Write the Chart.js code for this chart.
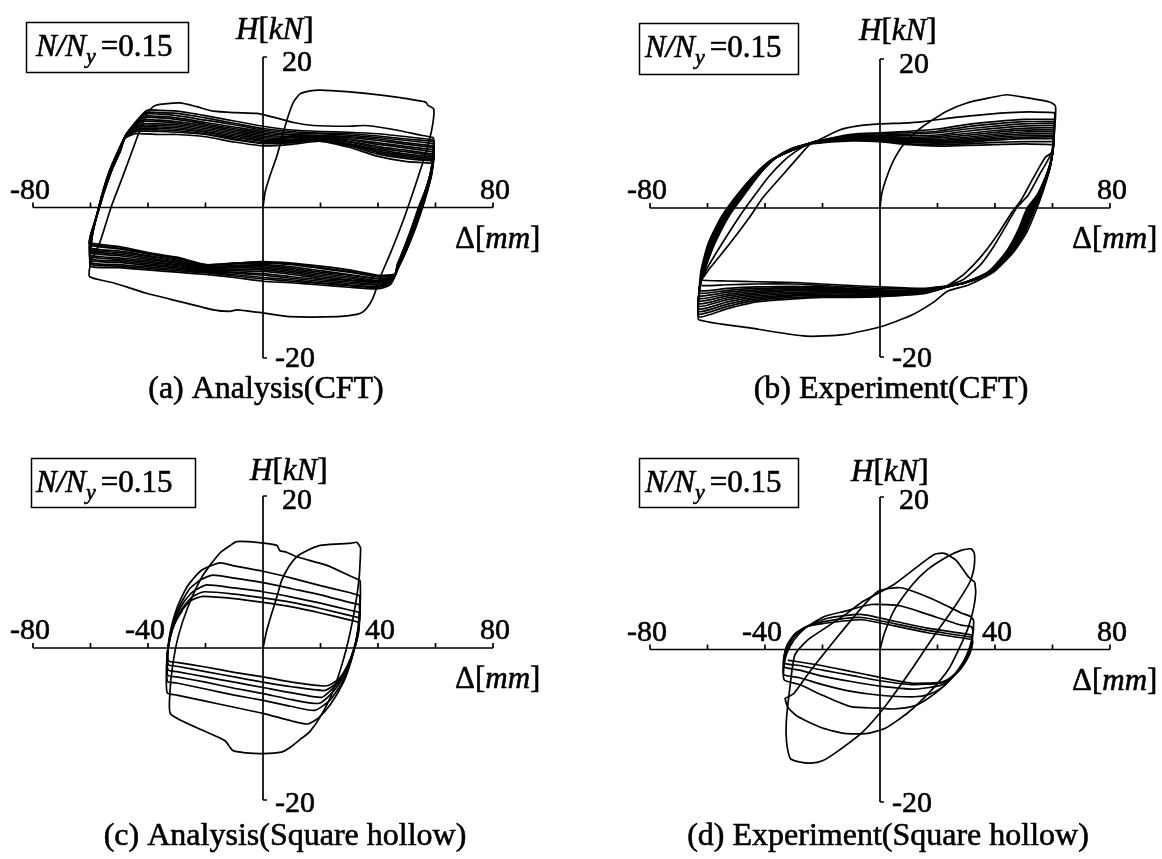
<!DOCTYPE html>
<html>
<head>
<meta charset="utf-8">
<title>Hysteresis loops: CFT and square hollow columns</title>
<script src="https://cdn.jsdelivr.net/npm/chart.js"></script>
<style>
  html, body { margin: 0; padding: 0; background: #fff; }
  #sheet { position: relative; width: 1162px; height: 859px; background: #fff; overflow: hidden; }
  #sheet canvas { position: absolute; }
</style>
</head>
<body>
<div id="sheet">
  <canvas id="panelA" width="581" height="430" style="left:0;top:0"></canvas>
  <canvas id="panelB" width="581" height="430" style="left:581px;top:0"></canvas>
  <canvas id="panelC" width="581" height="429" style="left:0;top:430px"></canvas>
  <canvas id="panelD" width="581" height="429" style="left:581px;top:430px"></canvas>
</div>
<script>
// ---------------------------------------------------------------
// Axis values and labels (displacement in mm, horizontal force in kN)
// ---------------------------------------------------------------
const xTickValues = [-80, -60, -40, -20, 20, 40, 60, 80];
const yTickValues = [20, -20];
const topRowXLabels = [-80, 80];
const bottomRowXLabels = [-80, -40, 40, 80];
const axisRange = { x: 80, y: 20 };
const axialRatioText = '=0.15';
const panelTitles = [
  '(a) Analysis(CFT)',
  '(b) Experiment(CFT)',
  '(c) Analysis(Square hollow)',
  '(d) Experiment(Square hollow)'
];

// ---------------------------------------------------------------
// (a) Analysis, CFT column  [displacement mm, force kN]
// ---------------------------------------------------------------
const aFirstCycle = [
  [0,0],[0.7,2.0],[2.4,4.2],[4.8,6.8],[7.1,10.0],[8.8,12.2],[10.6,14.0],[12.9,15.1],[16.4,15.5],[19.9,15.6],
  [29.2,15.4],[37.3,15.1],[47.7,14.6],[54.0,14.2],[56.7,14.0],[57.3,13.6],[59.4,13.1],
  [59.1,11.2],[57.9,9.0],[55.6,6.0],[52.6,2.5],[48.7,-1.8],[44.4,-6.0],[40.6,-9.4],[38.8,-11.5],[37.2,-12.8],
  [35.0,-13.8],[32.6,-14.2],[26.1,-14.5],[9.1,-14.5],[0,-14.0],[-4.5,-13.8],[-9.2,-13.6],[-11.5,-13.8],
  [-17.3,-13.6],[-28.9,-12.5],[-40.5,-11.4],[-52.1,-10.0],[-60.3,-9.2],
  [-59.8,-7.2],[-56.8,-4.7],[-52.7,0.2],[-48.7,4.2],[-43.4,9.7],[-40.6,12.3],[-38.2,13.4],[-35.9,13.7],
  [-28.9,13.9],[-23.1,13.4],[-17.3,12.8],[-9.2,12.6],[-2.2,12.5],[3.6,12.0],[10.6,11.3],[17.5,10.9],
  [29.2,10.8],[35.0,10.9],[38.4,10.8],[47.7,10.2],[55.0,9.6],[59.3,9.3]
];
const aTopLines = [
  [[-40.5,12.9],[-36,12.9],[-30,12.8],[-20,12.2],[-10,11.5],[0,10.8],[10,10.3],[20,10.1],[30,10.0],[40,9.8],[50,9.4],[59.4,9.0]],
  [[-40.9,12.6],[-36,12.6],[-30,12.5],[-20,11.9],[-10,11.2],[0,10.5],[10,10.1],[20,9.9],[30,9.8],[40,9.5],[50,9.1],[59.4,8.8]],
  [[-41.2,12.4],[-36,12.4],[-30,12.2],[-20,11.6],[-10,11.0],[0,10.3],[10,9.9],[20,9.8],[30,9.6],[40,9.3],[50,8.9],[59.3,8.5]],
  [[-41.5,12.1],[-36,12.1],[-30,11.9],[-20,11.3],[-10,10.7],[0,10.1],[10,9.7],[20,9.6],[30,9.4],[40,9.1],[50,8.6],[59.3,8.2]],
  [[-41.8,11.9],[-36,11.9],[-30,11.7],[-20,11.1],[-10,10.5],[0,9.9],[10,9.6],[20,9.5],[30,9.3],[40,8.9],[50,8.4],[59.2,8.0]],
  [[-42.1,11.6],[-36,11.6],[-30,11.4],[-20,10.9],[-10,10.3],[0,9.7],[10,9.4],[20,9.4],[30,9.1],[40,8.6],[50,8.1],[59.2,7.7]],
  [[-42.3,11.4],[-36,11.4],[-30,11.2],[-20,10.7],[-10,10.1],[0,9.5],[10,9.3],[20,9.3],[30,9.0],[40,8.4],[50,7.9],[59.1,7.4]],
  [[-42.6,11.1],[-36,11.1],[-30,11.0],[-20,10.5],[-10,9.9],[0,9.3],[10,9.1],[20,9.2],[30,8.8],[40,8.1],[50,7.6],[59.1,7.1]],
  [[-42.8,10.9],[-36,10.9],[-30,10.8],[-20,10.3],[-10,9.7],[0,9.1],[10,9.0],[20,9.1],[30,8.7],[40,7.9],[50,7.4],[59.0,6.9]],
  [[-43.1,10.7],[-36,10.7],[-30,10.6],[-20,10.1],[-10,9.5],[0,8.9],[10,8.9],[20,9.0],[30,8.5],[40,7.7],[50,7.1],[59.0,6.7]],
  [[-43.3,10.5],[-36,10.5],[-30,10.4],[-20,10.0],[-10,9.3],[0,8.8],[10,8.8],[20,9.0],[30,8.4],[40,7.5],[50,6.9],[58.9,6.5]],
  [[-43.6,10.3],[-36,10.3],[-30,10.2],[-20,9.8],[-10,9.1],[0,8.6],[10,8.7],[20,8.9],[30,8.3],[40,7.3],[50,6.7],[58.9,6.3]],
  [[-43.8,10.1],[-36,10.1],[-30,10.0],[-20,9.7],[-10,9.0],[0,8.5],[10,8.6],[20,8.9],[30,8.2],[40,7.1],[50,6.5],[58.8,6.2]],
  [[-44.2,9.8],[-36,9.7],[-30,9.7],[-20,9.4],[-10,8.7],[0,8.2],[10,8.4],[20,8.8],[30,8.0],[40,6.8],[50,6.1],[58.7,5.9]]
];
const aDescents = [
  [[59.5,7.2],[58.7,4.4],[57.3,2.3],[55.5,0],[52.8,-3.0],[49.6,-6.0],[46.6,-8.4]],
  [[59.5,7.0],[58.6,4.4],[57.2,2.3],[55.4,0],[52.7,-3.0],[49.5,-6.0],[46.6,-8.4]],
  [[59.4,6.9],[58.5,4.3],[57.1,2.2],[55.3,0],[52.6,-3.0],[49.4,-6.0],[46.6,-8.3]],
  [[59.4,6.8],[58.5,4.3],[57.0,2.2],[55.2,0],[52.5,-3.0],[49.4,-6.0],[46.6,-8.3]],
  [[59.3,6.6],[58.4,4.2],[57.0,2.2],[55.1,0],[52.4,-3.0],[49.3,-6.0],[46.6,-8.2]],
  [[59.3,6.5],[58.3,4.2],[56.9,2.1],[55.0,0],[52.3,-3.0],[49.2,-6.0],[46.6,-8.2]],
  [[59.2,6.4],[58.3,4.1],[56.8,2.1],[54.9,0],[52.2,-3.0],[49.1,-6.0],[46.6,-8.1]],
  [[59.2,6.3],[58.2,4.1],[56.7,2.1],[54.8,0],[52.1,-3.0],[49.0,-6.0],[46.6,-8.1]],
  [[59.1,6.2],[58.1,4.1],[56.6,2.1],[54.7,0],[52.0,-3.0],[48.9,-6.0],[46.6,-8.0]],
  [[59.0,6.1],[58.0,4.0],[56.5,2.0],[54.6,0],[51.9,-3.0],[48.8,-6.0],[46.6,-8.0]],
  [[59.0,6.0],[58.0,4.0],[56.5,2.0],[54.5,0],[51.8,-3.0],[48.8,-6.0],[46.6,-7.9]],
  [[58.9,5.9],[57.9,4.0],[56.3,2.0],[54.3,0],[51.6,-3.0],[48.6,-6.0],[46.6,-7.8]],
  [[58.9,5.9],[57.8,3.9],[56.2,2.0],[54.2,0],[51.5,-3.0],[48.5,-6.0],[46.6,-7.8]],
  [[58.8,5.8],[57.8,3.9],[56.2,2.0],[54.1,0],[51.4,-3.0],[48.4,-6.0],[46.6,-7.7]]
];
const aBottomLines = [
  [[44.2,-10.3],[40,-10.8],[30,-10.6],[20,-10.3],[10,-10.0],[0,-9.8],[-10,-9.3],[-20,-8.9],[-30,-8.6],[-40,-8.3],[-50,-8.0],[-60.0,-7.8]],
  [[44.4,-10.1],[40,-10.6],[30,-10.4],[20,-10.1],[10,-9.8],[0,-9.5],[-10,-9.1],[-20,-8.7],[-30,-8.4],[-40,-8.1],[-50,-7.8],[-60.0,-7.5]],
  [[44.5,-10.0],[40,-10.5],[30,-10.3],[20,-10.0],[10,-9.6],[0,-9.3],[-10,-8.9],[-20,-8.6],[-30,-8.2],[-40,-7.9],[-50,-7.6],[-60.0,-7.3]],
  [[44.7,-9.9],[40,-10.3],[30,-10.1],[20,-9.8],[10,-9.4],[0,-9.0],[-10,-8.7],[-20,-8.5],[-30,-8.0],[-40,-7.7],[-50,-7.3],[-60.1,-7.0]],
  [[44.8,-9.8],[40,-10.2],[30,-9.9],[20,-9.6],[10,-9.2],[0,-8.8],[-10,-8.6],[-20,-8.4],[-30,-7.9],[-40,-7.5],[-50,-7.1],[-60.1,-6.8]],
  [[45.0,-9.7],[40,-10.0],[30,-9.7],[20,-9.4],[10,-8.9],[0,-8.5],[-10,-8.4],[-20,-8.3],[-30,-7.7],[-40,-7.3],[-50,-6.9],[-60.1,-6.5]],
  [[45.1,-9.6],[40,-9.9],[30,-9.6],[20,-9.2],[10,-8.7],[0,-8.3],[-10,-8.2],[-20,-8.2],[-30,-7.6],[-40,-7.1],[-50,-6.7],[-60.1,-6.3]],
  [[45.3,-9.5],[40,-9.8],[30,-9.4],[20,-9.0],[10,-8.5],[0,-8.1],[-10,-8.0],[-20,-8.1],[-30,-7.4],[-40,-6.9],[-50,-6.4],[-60.2,-6.0]],
  [[45.4,-9.4],[40,-9.7],[30,-9.2],[20,-8.8],[10,-8.3],[0,-7.9],[-10,-7.9],[-20,-8.0],[-30,-7.3],[-40,-6.7],[-50,-6.2],[-60.2,-5.8]],
  [[45.6,-9.3],[40,-9.5],[30,-9.0],[20,-8.6],[10,-8.1],[0,-7.7],[-10,-7.8],[-20,-7.9],[-30,-7.1],[-40,-6.5],[-50,-6.0],[-60.2,-5.6]],
  [[45.7,-9.2],[40,-9.4],[30,-8.9],[20,-8.4],[10,-7.9],[0,-7.6],[-10,-7.7],[-20,-7.8],[-30,-7.0],[-40,-6.4],[-50,-5.8],[-60.2,-5.4]],
  [[46.0,-9.0],[40,-9.2],[30,-8.6],[20,-8.1],[10,-7.6],[0,-7.4],[-10,-7.5],[-20,-7.7],[-30,-6.8],[-40,-6.2],[-50,-5.5],[-60.3,-5.0]],
  [[46.1,-8.9],[40,-9.1],[30,-8.5],[20,-8.0],[10,-7.5],[0,-7.3],[-10,-7.4],[-20,-7.6],[-30,-6.7],[-40,-6.1],[-50,-5.4],[-60.3,-4.9]],
  [[46.3,-8.8],[40,-9.0],[30,-8.3],[20,-7.8],[10,-7.4],[0,-7.2],[-10,-7.4],[-20,-7.6],[-30,-6.6],[-40,-6.0],[-50,-5.2],[-60.3,-4.7]]
];
const aAscents = [
  [[-59.9,-5.6],[-59.3,-3.6],[-57.9,-1.2],[-56.2,1.5],[-53.5,4.8],[-50.3,7.6],[-47.3,9.9]],
  [[-59.9,-5.5],[-59.3,-3.5],[-57.9,-1.1],[-56.1,1.5],[-53.4,4.8],[-50.3,7.6],[-47.3,9.9]],
  [[-59.9,-5.3],[-59.3,-3.4],[-57.8,-1.0],[-56.0,1.6],[-53.3,4.9],[-50.2,7.6],[-47.4,9.8]],
  [[-60.0,-5.2],[-59.3,-3.3],[-57.8,-1.0],[-56.0,1.6],[-53.2,4.9],[-50.2,7.6],[-47.4,9.8]],
  [[-60.0,-5.0],[-59.2,-3.2],[-57.7,-0.9],[-55.9,1.7],[-53.1,5.0],[-50.1,7.6],[-47.5,9.7]],
  [[-60.0,-4.9],[-59.2,-3.1],[-57.7,-0.9],[-55.8,1.7],[-53.1,5.0],[-50.1,7.6],[-47.5,9.7]],
  [[-60.0,-4.8],[-59.2,-3.0],[-57.6,-0.8],[-55.7,1.8],[-53.0,5.0],[-50.0,7.5],[-47.6,9.6]],
  [[-60.1,-4.7],[-59.2,-3.0],[-57.6,-0.8],[-55.7,1.8],[-52.9,5.0],[-50.0,7.5],[-47.6,9.6]],
  [[-60.1,-4.6],[-59.1,-2.9],[-57.5,-0.7],[-55.6,1.8],[-52.8,5.0],[-49.9,7.5],[-47.7,9.5]],
  [[-60.1,-4.5],[-59.1,-2.8],[-57.5,-0.7],[-55.6,1.9],[-52.8,5.0],[-49.9,7.5],[-47.7,9.5]],
  [[-60.1,-4.4],[-59.1,-2.7],[-57.4,-0.6],[-55.5,1.9],[-52.7,5.0],[-49.8,7.5],[-47.8,9.4]],
  [[-60.2,-4.2],[-59.0,-2.6],[-57.3,-0.5],[-55.4,1.9],[-52.6,5.0],[-49.7,7.5],[-47.9,9.3]],
  [[-60.2,-4.1],[-59.0,-2.5],[-57.3,-0.5],[-55.4,2.0],[-52.6,5.0],[-49.7,7.5],[-47.9,9.3]],
  [[-60.2,-4.0],[-59.0,-2.4],[-57.2,-0.4],[-55.3,2.0],[-52.5,5.0],[-49.6,7.5],[-48.0,9.2]]
];

// ---------------------------------------------------------------
// (b) Experiment, CFT column
// ---------------------------------------------------------------
const bFirstCycle = [
  [0,0],[0.6,1.9],[2.3,4.1],[4.6,6.3],[8.1,8.5],[12.8,10.3],[17.4,11.6],[23.2,13.0],[30.2,14.1],[38.3,14.8],
  [44.1,15.2],[51.1,14.8],[59.2,14.2],[61.0,13.7],
  [61.0,12.0],[60.6,10.5],[60.2,8.3],[59.2,5.6],[56.9,2.5],[54.6,0],[51.1,-3.2],[46.5,-5.9],[39.5,-8.6],
  [31.0,-10.3],[23.3,-11.2],[18.8,-12.6],[10.9,-14.4],[0.5,-15.9],[-12.6,-17.0],[-25.7,-17.2],[-45.3,-16.1],[-63.0,-15.0],
  [-63.2,-13.5],[-63.0,-11.5],[-62.3,-8.5],[-59.8,-4.8],[-55.2,-1.2],[-49.4,1.9],[-43.6,4.5],[-37.7,6.5],
  [-31.8,7.6],[-26.0,8.4],[-23.0,8.8],
  [-13.9,10.5],[-8.1,11.0],[0,11.3],[8.0,11.4],[15.0,11.6],[27.0,12.2],[38.0,12.6],[45.0,12.8],[52.0,12.9],[60.8,12.8]
];
const bTopLines = [
  [[-22.5,8.9],[-10,9.9],[0,10.1],[10,10.3],[20,10.6],[30,11.2],[40,11.6],[50,11.9],[60.8,11.9]],
  [[-22.6,8.9],[-10,9.8],[0,10.0],[10,10.1],[20,10.3],[30,10.9],[40,11.3],[50,11.6],[60.7,11.6]],
  [[-22.7,8.9],[-10,9.7],[0,9.8],[10,9.9],[20,10.1],[30,10.6],[40,11.0],[50,11.3],[60.7,11.4]],
  [[-22.8,8.9],[-10,9.6],[0,9.7],[10,9.7],[20,9.8],[30,10.3],[40,10.7],[50,11.0],[60.6,11.1]],
  [[-22.9,8.8],[-10,9.5],[0,9.6],[10,9.5],[20,9.6],[30,10.0],[40,10.4],[50,10.7],[60.6,10.8]],
  [[-23.0,8.8],[-10,9.45],[0,9.5],[10,9.35],[20,9.4],[30,9.75],[40,10.15],[50,10.45],[60.5,10.55]],
  [[-23.1,8.8],[-10,9.4],[0,9.4],[10,9.2],[20,9.2],[30,9.5],[40,9.9],[50,10.2],[60.5,10.3]],
  [[-23.2,8.8],[-10,9.35],[0,9.3],[10,9.1],[20,9.05],[30,9.3],[40,9.7],[50,9.95],[60.4,10.05]],
  [[-23.3,8.8],[-10,9.3],[0,9.2],[10,9.0],[20,8.9],[30,9.1],[40,9.5],[50,9.7],[60.4,9.8]],
  [[-23.4,8.7],[-10,9.25],[0,9.15],[10,8.9],[20,8.8],[30,8.95],[40,9.3],[50,9.5],[60.3,9.55]],
  [[-23.5,8.7],[-10,9.2],[0,9.1],[10,8.8],[20,8.7],[30,8.8],[40,9.1],[50,9.3],[60.3,9.3]],
  [[-23.7,8.7],[-10,9.1],[0,9.0],[10,8.6],[20,8.5],[30,8.6],[40,8.8],[50,8.9],[60.2,8.9]],
  [[-23.9,8.6],[-10,9.0],[0,8.9],[10,8.5],[20,8.3],[30,8.4],[40,8.5],[50,8.6],[60.1,8.5]]
];
const bDescents = [
  [[60.6,10.0],[60.1,7.6],[59.0,5.2],[56.6,2.3],[54.0,0],[50.5,-3.2],[46.0,-5.9],[39.2,-8.6],[30,-10.0],[23,-10.6]],
  [[60.6,9.8],[60.1,7.5],[58.9,5.1],[56.4,2.3],[53.8,0],[50.3,-3.2],[45.8,-5.9],[39.1,-8.6],[30,-10.0],[23,-10.6]],
  [[60.5,9.4],[60.0,7.3],[58.8,5.0],[56.2,2.2],[53.5,0],[50.0,-3.2],[45.6,-5.9],[39.0,-8.6],[30,-10.0],[23,-10.6]],
  [[60.5,9.2],[60.0,7.2],[58.7,5.0],[56.0,2.1],[53.2,0],[49.8,-3.2],[45.4,-5.9],[38.8,-8.6],[30,-10.0],[23,-10.6]],
  [[60.4,9.0],[59.9,7.1],[58.6,4.9],[55.9,2.1],[53.0,0],[49.5,-3.2],[45.2,-5.9],[38.7,-8.6],[30,-10.0],[23,-10.6]],
  [[60.4,8.8],[59.9,7.0],[58.5,4.9],[55.7,2.0],[52.7,0],[49.3,-3.1],[45.0,-5.9],[38.5,-8.6],[30,-10.0],[23,-10.6]],
  [[60.3,8.6],[59.8,7.0],[58.4,4.8],[55.5,2.0],[52.4,0],[49.0,-3.1],[44.8,-5.9],[38.4,-8.6],[30,-10.0],[23,-10.6]],
  [[60.3,8.4],[59.8,6.9],[58.3,4.8],[55.3,2.0],[52.1,0],[48.8,-3.1],[44.6,-5.9],[38.2,-8.6],[30,-10.0],[23,-10.6]],
  [[60.2,8.2],[59.7,6.8],[58.2,4.7],[55.1,1.9],[51.8,0],[48.5,-3.1],[44.4,-5.9],[38.1,-8.6],[30,-10.0],[23,-10.6]],
  [[60.2,8.0],[59.7,6.7],[58.1,4.6],[54.9,1.8],[51.5,0],[48.3,-3.0],[44.2,-5.8],[38.0,-8.5],[30,-9.9],[23,-10.6]],
  [[60.1,7.9],[59.6,6.6],[58.0,4.6],[54.7,1.8],[51.2,0],[48.0,-3.0],[44.0,-5.8],[37.8,-8.5],[30,-9.9],[23,-10.6]],
  [[59.9,7.7],[58.5,6.5],[55.5,4.5],[51.5,1.7],[47.5,0],[43.5,-2.6],[39.5,-5.2],[35.0,-7.6],[29,-9.6],[23,-10.5]],
  [[59.8,7.5],[57.5,6.8],[53.0,3.8],[49.0,1.0],[46.0,-0.5],[40.5,-3.8],[35.0,-6.6],[30,-8.6],[26,-9.8],[23,-10.5]]
];
const bBottomLines = [
  [[22.5,-10.7],[15,-11.5],[0,-11.9],[-10,-12.0],[-20,-12.0],[-30,-12.2],[-43,-12.6],[-53,-13.5],[-63.0,-14.6]],
  [[22.5,-10.7],[15,-11.45],[0,-11.8],[-10,-11.85],[-20,-11.85],[-30,-12.0],[-43,-12.4],[-53,-13.2],[-63.0,-14.25]],
  [[22.5,-10.7],[15,-11.4],[0,-11.7],[-10,-11.7],[-20,-11.7],[-30,-11.8],[-43,-12.2],[-53,-12.9],[-63.0,-13.9]],
  [[22.5,-10.7],[15,-11.35],[0,-11.6],[-10,-11.55],[-20,-11.55],[-30,-11.65],[-43,-12.0],[-53,-12.6],[-63.0,-13.55]],
  [[22.5,-10.7],[15,-11.3],[0,-11.5],[-10,-11.4],[-20,-11.4],[-30,-11.5],[-43,-11.8],[-53,-12.3],[-63.0,-13.2]],
  [[22.5,-10.6],[15,-11.25],[0,-11.4],[-10,-11.3],[-20,-11.25],[-30,-11.3],[-43,-11.6],[-53,-12.05],[-62.9,-12.85]],
  [[22.5,-10.6],[15,-11.2],[0,-11.3],[-10,-11.2],[-20,-11.1],[-30,-11.1],[-43,-11.4],[-53,-11.8],[-62.9,-12.5]],
  [[22.5,-10.6],[15,-11.15],[0,-11.25],[-10,-11.1],[-20,-10.95],[-30,-10.95],[-43,-11.2],[-53,-11.55],[-62.8,-12.15]],
  [[22.5,-10.6],[15,-11.1],[0,-11.2],[-10,-11.0],[-20,-10.8],[-30,-10.8],[-43,-11.0],[-53,-11.3],[-62.8,-11.8]],
  [[22.5,-10.6],[15,-11.05],[0,-11.1],[-10,-10.9],[-20,-10.7],[-30,-10.65],[-43,-10.8],[-53,-11.05],[-62.7,-11.45]],
  [[22.5,-10.6],[15,-11.0],[0,-11.0],[-10,-10.8],[-20,-10.6],[-30,-10.5],[-43,-10.6],[-53,-10.8],[-62.7,-11.1]],
  [[22.5,-10.5],[15,-10.9],[0,-10.8],[-10,-10.6],[-20,-10.4],[-30,-10.2],[-43,-10.2],[-53,-10.3],[-62.6,-10.4]],
  [[22.5,-10.5],[15,-10.8],[0,-10.6],[-10,-10.4],[-20,-10.2],[-30,-10.0],[-43,-9.9],[-53,-9.8],[-62.5,-9.7]]
];
const bAscents = [
  [[-62.9,-11.5],[-62.0,-8.5],[-59.6,-4.8],[-55.0,-1.2],[-49.2,1.9],[-43.4,4.5],[-37.5,6.5],[-31.6,7.6],[-26,8.4]],
  [[-62.9,-11.3],[-61.9,-8.5],[-59.4,-4.8],[-54.8,-1.2],[-49.0,1.9],[-43.2,4.5],[-37.3,6.5],[-31.4,7.6],[-26,8.4]],
  [[-62.8,-11.2],[-61.8,-8.4],[-59.2,-4.8],[-54.5,-1.2],[-48.7,1.9],[-42.9,4.6],[-37.0,6.6],[-31.2,7.7],[-26,8.4]],
  [[-62.8,-11.0],[-61.7,-8.4],[-59.0,-4.8],[-54.3,-1.1],[-48.5,2.0],[-42.7,4.6],[-36.8,6.6],[-31.0,7.7],[-26,8.4]],
  [[-62.7,-10.9],[-61.6,-8.3],[-58.8,-4.8],[-54.0,-1.1],[-48.2,2.0],[-42.4,4.7],[-36.6,6.7],[-30.9,7.8],[-26,8.4]],
  [[-62.7,-10.7],[-61.4,-8.3],[-58.6,-4.8],[-53.8,-1.1],[-48.0,2.0],[-42.2,4.7],[-36.4,6.7],[-30.7,7.8],[-26,8.5]],
  [[-62.6,-10.6],[-61.3,-8.2],[-58.4,-4.8],[-53.5,-1.1],[-47.7,2.0],[-41.9,4.8],[-36.2,6.8],[-30.6,7.9],[-26,8.5]],
  [[-62.6,-10.4],[-61.1,-8.2],[-58.2,-4.8],[-53.2,-1.0],[-47.4,2.0],[-41.6,4.8],[-36.0,6.8],[-30.4,7.9],[-26,8.5]],
  [[-62.5,-10.3],[-61.0,-8.1],[-58.0,-4.8],[-53.0,-1.0],[-47.2,2.1],[-41.4,4.9],[-35.8,6.9],[-30.3,8.0],[-26,8.5]],
  [[-62.5,-10.1],[-60.8,-8.0],[-57.7,-4.8],[-52.7,-1.0],[-46.9,2.1],[-41.1,4.9],[-35.6,6.9],[-30.1,8.0],[-26,8.5]],
  [[-62.4,-10.0],[-60.7,-8.0],[-57.5,-4.8],[-52.4,-1.0],[-46.6,2.1],[-40.9,5.0],[-35.4,7.0],[-30.0,8.1],[-26,8.5]],
  [[-62.2,-9.8],[-60.0,-8.0],[-55.0,-4.8],[-49.0,-1.2],[-44.0,1.5],[-38.5,4.3],[-33.0,6.5],[-28.5,7.8],[-25,8.6]],
  [[-62.0,-9.6],[-59.0,-8.0],[-52.3,-4.8],[-45.3,-1.2],[-40.7,1.4],[-33.7,4.5],[-28.5,6.8],[-25,8.3]]
];

// ---------------------------------------------------------------
// (c) Analysis, square hollow column
// ---------------------------------------------------------------
const cFirstCycle = [
  [0,0],[1.3,2.3],[3.0,4.5],[4.8,6.7],[6.5,8.9],[8.8,10.6],[11.7,12.0],[15.2,12.8],[19.9,13.5],[26.8,13.7],
  [30.9,13.8],[32.6,13.9],[33.9,13.2],[33.9,12.4],
  [33.5,9.5],[32.3,6.0],[30.3,2.0],[27.6,-2.0],[24.0,-6.0],[20.0,-9.0],[16.3,-11.0],[13.0,-12.0],[9.0,-13.2],
  [6.4,-13.7],[0,-13.9],[-6.0,-13.8],[-10.5,-13.5],[-13.2,-12.2],[-20.0,-11.0],[-32.1,-8.7],
  [-32.4,-6.0],[-31.5,-2.5],[-29.5,1.5],[-26.0,5.5],[-21.0,9.5],[-15.0,12.5],[-11.0,13.6],[-9.2,14.0],
  [-2.2,13.9],[4.8,13.5],[5.9,12.8],[8.2,12.6],[11.7,12.0],[22.0,10.9],[31.3,9.3],[33.8,8.9]
];
const cTopLines = [
  [[-15.0,11.2],[-10,10.8],[0,10.1],[10,9.2],[20,8.2],[30,7.3],[33.6,6.9]],
  [[-17.5,9.6],[-10,9.2],[0,8.6],[10,7.8],[20,7.0],[30,6.0],[33.5,5.7]],
  [[-19.5,8.3],[-10,7.9],[0,7.4],[10,6.7],[20,5.9],[30,5.0],[33.4,4.7]],
  [[-20.3,7.4],[-10,7.1],[0,6.6],[10,6.0],[20,5.2],[30,4.3],[33.3,4.0]],
  [[-20.8,6.8],[-10,6.5],[0,6.0],[10,5.4],[20,4.6],[30,3.7],[33.2,3.4]]
];
const cDescents = [
  [[33.9,7.0],[33.6,4.5],[32.6,1.5],[30.8,-1.5],[28.0,-4.5],[23.5,-7.4],[19.0,-9.3]],
  [[33.8,5.2],[33.3,3.0],[32.2,0.5],[30.3,-2.0],[27.4,-4.6],[23.2,-6.9]],
  [[33.7,4.3],[33.1,2.4],[31.9,0.2],[30.0,-2.0],[27.0,-4.4],[23.0,-6.3]],
  [[33.6,3.6],[32.9,1.8],[31.7,0],[29.8,-2.0],[26.8,-4.2],[23.2,-5.7]],
  [[33.5,3.0],[32.8,1.4],[31.6,-0.2],[29.7,-2.1],[26.8,-4.1],[23.5,-5.2]],
  [[33.4,2.5],[32.7,1.0],[31.5,-0.5],[29.6,-2.2],[26.8,-3.9],[24.0,-4.7]]
];
const cBottomLines = [
  [[15.5,-10.0],[10,-9.6],[0,-8.6],[-10,-7.8],[-20,-7.0],[-30,-6.2],[-33.3,-5.9]],
  [[18.0,-8.2],[10,-7.7],[0,-6.9],[-10,-6.2],[-20,-5.4],[-30,-4.6],[-33.2,-4.4]],
  [[19.3,-7.3],[10,-6.8],[0,-6.0],[-10,-5.3],[-20,-4.5],[-30,-3.8],[-33.1,-3.6]],
  [[20.4,-6.5],[10,-5.9],[0,-5.2],[-10,-4.5],[-20,-3.8],[-30,-3.1],[-33.0,-2.9]],
  [[21.0,-5.6],[10,-5.1],[0,-4.5],[-10,-3.8],[-20,-3.1],[-30,-2.4],[-32.9,-2.2]],
  [[21.5,-5.0],[10,-4.5],[0,-3.8],[-10,-3.2],[-20,-2.5],[-30,-1.9],[-32.8,-1.7]]
];
const cAscents = [
  [[-33.6,-3.5],[-33.3,-0.8],[-32.2,2.2],[-30.0,5.2],[-26.5,8.0],[-21.5,10.2]],
  [[-33.5,-2.5],[-33.1,-0.3],[-31.8,2.5],[-29.3,5.3],[-25.5,7.8],[-21.5,9.0]],
  [[-33.4,-1.8],[-32.9,0.2],[-31.5,2.8],[-28.8,5.3],[-25.0,7.2],[-22.2,7.9]],
  [[-33.3,-1.2],[-32.7,0.6],[-31.2,2.9],[-28.5,5.0],[-25.0,6.6],[-22.8,7.1]],
  [[-33.2,-0.6],[-32.5,1.0],[-31.0,3.0],[-28.3,4.9],[-25.2,6.2],[-23.0,6.6]],
  [[-33.1,-0.3],[-32.3,1.4],[-30.6,3.3],[-28.0,5.0]]
];

// ---------------------------------------------------------------
// (d) Experiment, square hollow column
// ---------------------------------------------------------------
const dFirstCycle = [
  [0,0],[1.5,2.1],[5.0,5.2],[10.8,8.3],[16.6,10.5],[23.5,12.2],[28.2,13.0],[31.7,13.2],[32.8,12.6],
  [32.8,11.0],[32.0,9.6],[30.8,8.5],[25.6,5.4],[19.0,1.9],[11.2,-2.5],[2.1,-7.3],[-6.0,-10.8],[-14.9,-13.4],
  [-20.0,-14.6],[-24.0,-14.9],[-28.5,-14.7],[-31.2,-14.3],[-32.5,-12.1],
  [-32.6,-9.5],[-31.5,-5.5],[-29.6,-0.7],[-25.0,1.3],[-19.1,2.8],[-12.0,4.6],[-6.0,6.3],[4.7,8.5],
  [13.8,11.1],[19.0,12.5],[22.4,12.6],[26.5,11.7],[30.8,9.5],[33.0,8.8]
];
const dSecondCycle = [
  [33.3,7.5],[32.6,5.5],[30.8,3.0],[28.0,0.5],[24.0,-2.5],[18.0,-5.3],[10.0,-8.2],[2.0,-10.3],[-4.3,-11.0],
  [-12.4,-11.0],[-20.0,-10.3],[-28.6,-8.8],[-32.0,-7.6],[-33.0,-6.4],
  [-31.8,-6.2],[-29.8,-5.7],[-24.0,-2.7],[-14.7,1.7],[-6.6,5.4],[-0.8,7.6],[3.0,8.0],[7.3,8.1],[13.1,7.4],
  [21.2,6.1],[28.2,4.8],[31.7,4.3],[32.6,3.8]
];
const dLaterCycles = [
  [[32.4,2.2],[31.2,0.3],[29.0,-1.6],[25.5,-3.5],[21.0,-5.2],[16.0,-6.6],[12.0,-7.4],[5.0,-7.8],[-0.8,-7.7],
   [-10.1,-7.5],[-20.0,-6.0],[-28.0,-4.6],[-33.3,-4.0],
   [-33.5,-2.6],[-32.5,-0.6],[-30.0,1.2],[-26.0,2.8],[-19.5,4.3],[-12.4,5.0],[-3.1,5.9],[7.3,5.7],[16.6,4.6],
   [28.2,3.2],[31.7,3.0],[32.3,2.6]],
  [[32.0,1.2],[30.8,-0.4],[28.5,-2.0],[25.0,-3.7],[21.5,-5.0],[17.0,-5.9],[12.0,-6.2],[0,-6.0],[-10.0,-5.5],
   [-20.0,-4.6],[-28.0,-3.7],[-33.5,-3.3],
   [-33.6,-2.0],[-32.6,-0.2],[-30.0,1.6],[-25.5,3.0],[-18.2,4.1],[-6.6,4.6],[5.0,3.7],[16.6,2.8],[31.7,1.9],[32.2,1.6]],
  [[31.8,0.3],[30.3,-1.0],[27.8,-2.5],[24.5,-3.9],[21.0,-4.7],[12.0,-5.2],[0,-4.8],[-10.0,-4.2],[-20.0,-3.5],
   [-28.0,-2.7],[-33.4,-2.3],
   [-33.5,-1.2],[-32.5,0.3],[-30.0,1.8],[-25.5,3.0],[-19.0,3.7],[-6.6,4.2],[5.0,3.4],[16.6,2.5],[31.8,1.6],[32.2,1.3]],
  [[31.7,0.1],[30.2,-1.2],[27.6,-2.6],[24.5,-3.7],[21.0,-4.4],[11.0,-4.6],[0,-4.1],[-10.0,-3.4],[-20.0,-2.7],
   [-28.0,-2.1],[-33.2,-1.8],
   [-33.3,-0.8],[-32.3,0.6],[-29.8,2.0],[-25.5,3.0],[-20.0,3.4],[-6.6,3.9],[5.0,3.1],[16.6,2.2],[31.9,1.3],[32.3,1.0]],
  [[31.6,-0.2],[30.0,-1.5],[27.5,-2.8],[24.5,-3.8],[21.0,-4.3],[10.8,-4.4],[-0.8,-3.6],[-12.4,-2.7],[-22.0,-2.0],
   [-32.1,-1.4]]
];

// ---------------------------------------------------------------
// Loop assembly: each cycle continues from the last point of the previous one
// ---------------------------------------------------------------
function chainLoops(first, segmentsPerCycle) {
  const loops = [first];
  segmentsPerCycle.forEach(parts => {
    const prev = loops[loops.length - 1];
    const seg = [prev[prev.length - 1]];
    parts.forEach(p => { if (p) seg.push(...p); });
    loops.push(seg);
  });
  return loops;
}
function bandCycles(tops, descents, bottoms, ascents) {
  return descents.map((d, k) => [d, bottoms[k], ascents[k], tops[k]]);
}

const loopsA = chainLoops(aFirstCycle, bandCycles(aTopLines, aDescents, aBottomLines, aAscents));
const loopsB = chainLoops(bFirstCycle, bandCycles(bTopLines, bDescents, bBottomLines, bAscents));
const loopsC = chainLoops(cFirstCycle, bandCycles(cTopLines, cDescents, cBottomLines, cAscents));
const loopsD = chainLoops(dFirstCycle, [[dSecondCycle]].concat(dLaterCycles.map(c => [c])));

// ---------------------------------------------------------------
// Page layout of the four panels (pixels inside each canvas)
// ---------------------------------------------------------------
const panelLayout = [
  { id: 'panelA', loops: loopsA, pad: { left: 33, right: 88, top: 57, bottom: 72 }, xLabels: topRowXLabels,
    box: { x: 26, y: 22, w: 162, h: 50, tx: 36, ty: 56 }, hLabel: { dx: -27, dy: -18 },
    title: { x: 266, y: 398 }, yLab: { top: 14, bottom: 9 } },
  { id: 'panelB', loops: loopsB, pad: { left: 69, right: 52, top: 59, bottom: 73 }, xLabels: topRowXLabels,
    box: { x: 58, y: 23, w: 159, h: 51, tx: 64, ty: 57 }, hLabel: { dx: -21, dy: -19 },
    title: { x: 310, y: 398 }, yLab: { top: 14, bottom: 10 } },
  { id: 'panelC', loops: loopsC, pad: { left: 33, right: 88, top: 66, bottom: 59 }, xLabels: bottomRowXLabels,
    box: { x: 31, y: 28, w: 164, h: 49, tx: 36, ty: 62 }, hLabel: { dx: -13, dy: -16 },
    title: { x: 285, y: 415 }, yLab: { top: 13, bottom: 12 } },
  { id: 'panelD', loops: loopsD, pad: { left: 69, right: 52, top: 67, bottom: 57 }, xLabels: bottomRowXLabels,
    box: { x: 58, y: 28, w: 159, h: 49, tx: 64, ty: 62 }, hLabel: { dx: -29, dy: -16 },
    title: { x: 307, y: 415 }, yLab: { top: 12, bottom: 10 } }
];

const SERIF = '"Liberation Serif", "Times New Roman", Times, serif';
function font(size, italic) { return (italic ? 'italic ' : '') + size + 'px ' + SERIF; }

// Text filled and lightly outlined so the glyphs read as heavy as printed type
function inkText(ctx, t, x, y) {
  ctx.fillText(t, x, y);
  ctx.strokeText(t, x, y);
}

function drawRich(ctx, parts, x, y) {
  let cx = x;
  parts.forEach(p => {
    ctx.font = font(p.size, p.italic);
    inkText(ctx, p.t, cx, y + (p.dy || 0));
    cx += ctx.measureText(p.t).width + (p.gap || 0);
  });
}

// Crossed axes through the origin, tick marks, numeric labels and captions
const crossAxesPlugin = {
  id: 'crossAxes',
  beforeDatasetsDraw(chart, args, opts) {
    const L = opts.layout;
    const { ctx } = chart;
    const xs = chart.scales.x, ys = chart.scales.y;
    const ox = xs.getPixelForValue(0), oy = ys.getPixelForValue(0);
    const xL = xs.getPixelForValue(-axisRange.x), xR = xs.getPixelForValue(axisRange.x);
    const yT = ys.getPixelForValue(axisRange.y), yB = ys.getPixelForValue(-axisRange.y);

    ctx.save();
    ctx.strokeStyle = '#000';
    ctx.fillStyle = '#000';
    ctx.lineWidth = 1.7;
    ctx.beginPath();
    ctx.moveTo(xL, oy); ctx.lineTo(xR, oy);
    xTickValues.forEach(v => {
      const px = xs.getPixelForValue(v);
      ctx.moveTo(px, oy); ctx.lineTo(px, oy - 5);
    });
    ctx.moveTo(ox, yT); ctx.lineTo(ox, yB);
    yTickValues.forEach(v => {
      const py = ys.getPixelForValue(v);
      ctx.moveTo(ox, py); ctx.lineTo(ox + 4, py);
    });
    ctx.stroke();

    ctx.lineWidth = 0.6;
    ctx.lineJoin = 'round';

    // x tick labels above the axis, digits centred on the tick
    ctx.textBaseline = 'alphabetic';
    ctx.textAlign = 'left';
    ctx.font = font(30, false);
    L.xLabels.forEach(v => {
      const digits = String(Math.abs(v));
      const w = ctx.measureText(digits).width;
      const cx = xs.getPixelForValue(v) + 2;
      const txt = (v < 0 ? '-' : '') + digits;
      const lead = v < 0 ? ctx.measureText('-').width : 0;
      inkText(ctx, txt, cx - w / 2 - lead, oy - 9);
    });

    // y labels to the right of the axis ends
    inkText(ctx, String(yTickValues[0]), ox + 19, yT + L.yLab.top);
    inkText(ctx, String(yTickValues[1]), ox + 12, yB + L.yLab.bottom);

    // axis captions
    drawRich(ctx, [
      { t: 'H', size: 31, italic: true },
      { t: '[', size: 31 },
      { t: 'kN', size: 31, italic: true },
      { t: ']', size: 31 }
    ], ox + L.hLabel.dx, yT + L.hLabel.dy);
    drawRich(ctx, [
      { t: '\u0394', size: 31 },
      { t: '[', size: 31 },
      { t: 'mm', size: 31, italic: true },
      { t: ']', size: 31 }
    ], xR - 38, oy + 40);

    // axial-load ratio box
    const b = L.box;
    ctx.lineWidth = 1.5;
    ctx.strokeRect(b.x + 0.5, b.y + 0.5, b.w, b.h);
    ctx.lineWidth = 0.6;
    drawRich(ctx, [
      { t: 'N/N', size: 31, italic: true },
      { t: 'y', size: 22, italic: true, dy: 7, gap: 5 },
      { t: axialRatioText, size: 31 }
    ], b.tx, b.ty);

    // panel caption
    ctx.font = font(32, false);
    ctx.textAlign = 'center';
    inkText(ctx, opts.title, L.title.x, L.title.y);
    ctx.restore();
  }
};

panelLayout.forEach((L, i) => {
  const datasets = L.loops.map(loop => ({
    data: loop.map(p => ({ x: p[0], y: p[1] })),
    borderColor: '#000',
    borderWidth: 1.7,
    pointRadius: 0,
    tension: 0.2,
    fill: false
  }));
  new Chart(document.getElementById(L.id), {
    type: 'line',
    data: { datasets },
    options: {
      responsive: false,
      animation: false,
      events: [],
      layout: { padding: L.pad },
      scales: {
        x: { type: 'linear', min: -axisRange.x, max: axisRange.x, display: false },
        y: { type: 'linear', min: -axisRange.y, max: axisRange.y, display: false }
      },
      plugins: {
        legend: { display: false },
        tooltip: { enabled: false },
        crossAxes: { layout: L, title: panelTitles[i] }
      }
    },
    plugins: [crossAxesPlugin]
  });
});
</script>
</body>
</html>
